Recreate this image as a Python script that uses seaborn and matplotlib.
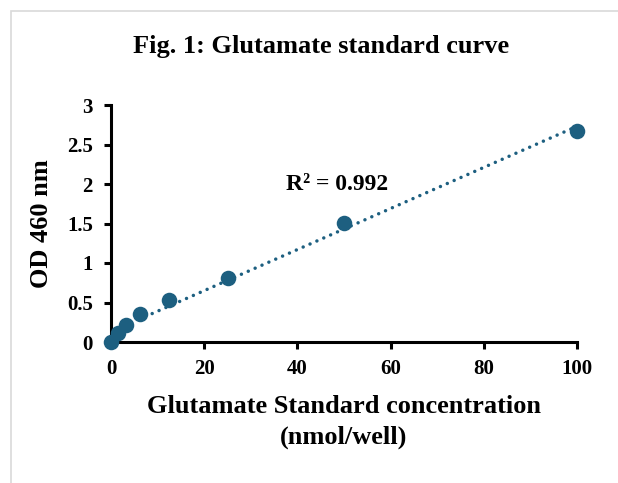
import numpy as np
import pandas as pd
import seaborn as sns
import matplotlib.pyplot as plt
from matplotlib.patches import Rectangle

sns.set_style('ticks')
plt.rcParams['font.family'] = ['Liberation Serif', 'DejaVu Serif']
plt.rcParams['font.weight'] = 'bold'
plt.rcParams['text.color'] = 'black'
plt.rcParams['axes.labelcolor'] = 'black'
plt.rcParams['xtick.color'] = 'black'
plt.rcParams['ytick.color'] = 'black'

### Data
concentration = [0, 1.5625, 3.125, 6.25, 12.5, 25, 50, 100]
od460 = [0.0, 0.11, 0.21, 0.36, 0.53, 0.81, 1.51, 2.67]
x_ticks = [0, 20, 40, 60, 80, 100]
y_ticks = [0, 0.5, 1, 1.5, 2, 2.5, 3]
y_ticklabels = ['0', '0.5', '1', '1.5', '2', '2.5', '3']

dataset = pd.DataFrame({'conc': concentration, 'od': od460})

color = '#1d5f80'

### Canvas
fig = plt.figure(figsize=(6.18, 4.83), dpi=100)
ax = fig.add_axes([111 / 618, 1 - 342 / 483, (577 - 111) / 618, (342 - 105) / 483])

### light grey frame around the chart area
fig.patches.append(Rectangle((11 / 618, -0.1), 1.2, 1.1 - 11 / 483,
                             transform=fig.transFigure, fill=False,
                             edgecolor='#d9d9d9', linewidth=1.2))

### Trendline
sns.regplot(data=dataset, x='conc', y='od', ax=ax, ci=None, scatter=False,
            line_kws={'color': color, 'linewidth': 2.5, 'linestyle': (0, (0.01, 2.15)),
                      'dash_capstyle': 'round', 'zorder': 2})

### Points
sns.scatterplot(data=dataset, x='conc', y='od', ax=ax, color=color,
                s=125, linewidth=0, zorder=3, clip_on=False)

### Axes
ax.set_xlim(0, 100)
ax.set_ylim(0, 3)
ax.set_xticks(x_ticks)
ax.set_yticks(y_ticks)
ax.set_yticklabels(y_ticklabels)

for m in ['top', 'right']:
    ax.spines[m].set_visible(False)
for m in ['bottom', 'left']:
    ax.spines[m].set_linewidth(2.2)
    ax.spines[m].set_color('black')

ax.tick_params(axis='both', direction='out', length=5, width=2.2, color='black',
               labelcolor='black', labelsize=15)
ax.tick_params(axis='x', pad=7)
ax.tick_params(axis='y', pad=8)
for lab in ax.get_xticklabels() + ax.get_yticklabels():
    lab.set_fontweight('bold')

ax.set_xlabel('Glutamate Standard concentration\n(nmol/well)', fontsize=19,
              fontweight='bold', labelpad=12, linespacing=1.4)
ax.set_ylabel('OD 460 nm', fontsize=19, fontweight='bold', labelpad=10)

fig.text(321 / 618, 1 - 47 / 483, 'Fig. 1: Glutamate standard curve', ha='center', va='center',
         fontsize=19, fontweight='bold')

ax.text(37.5, 2.0, 'R² = 0.992', fontsize=17, fontweight='bold', va='center')

fig.savefig('out.png', dpi=100)
